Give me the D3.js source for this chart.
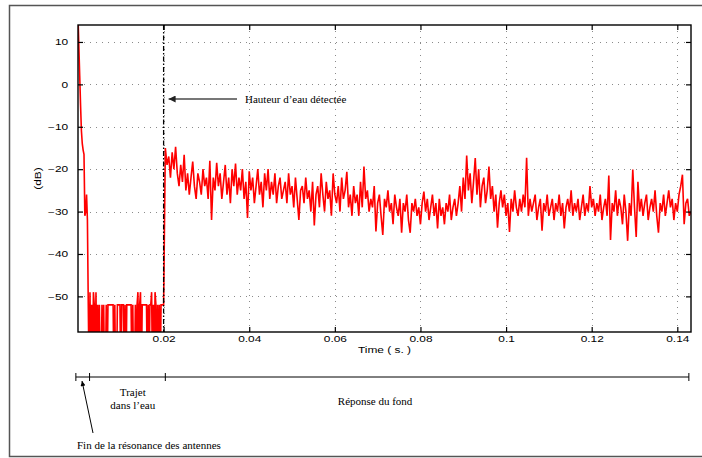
<!DOCTYPE html>
<html>
<head>
<meta charset="utf-8">
<script src="https://cdn.jsdelivr.net/npm/d3@7"></script>
<style>
  body { margin: 0; background: #fff; }
  .tick text { font-family: "Liberation Sans", Arial, sans-serif; }
  .note { font-family: "Liberation Serif", "Times New Roman", serif; font-size: 11px; fill: #000; }
</style>
</head>
<body>
<svg id="chart"></svg>
<script>
// sampled echo level (dB) -- early part, one sample every 0.2 ms from t = 0
var earlyDt = 0.0002;
var earlyDb = [
  16, 9, 2, -5, -11, -14, -15.5, -16.5, -31, -30, -26, -32, -52,
  -70, -49, -70, -52, -70, -49, -52, -70, -49, -70, -52,
  -70, -52, -70, -70, -52, -70, -52, -70, -70, -52, -70, -52,
  -52, -52, -52, -52, -52, -52,
  -70, -52, -70, -70, -52, -52,
  -52, -52, -70, -52, -52, -52,
  -70, -52, -70, -52, -52, -52,
  -52, -52, -52,
  -70, -52, -70, -70, -52, -70, -52,
  -49, -70, -52, -49, -70, -52,
  -52, -52, -52, -52, -52,
  -70, -52, -70, -52, -52,
  -49, -70, -52, -70, -49, -52, -70, -52,
  -70, -52, -70, -52, -52, -52, -52
];

// bottom response, one sample every 0.4 ms starting after t = 0.02
var lateT0 = 0.02;
var lateDt = 0.0004;
var lateDb = [
  -15, -19, -17, -22, -16, -20, -14.7, -21, -24, -19,
  -23, -16.6, -25, -21, -26, -22, -18.2, -24, -27, -21,
  -23, -26, -20, -24, -22, -27, -18, -32, -22, -25,
  -18.5, -24, -21, -27, -23, -19, -26, -22, -28, -20,
  -24, -18.7, -26, -22, -25, -20, -27, -23, -31.5, -20.5,
  -25, -22, -28, -24, -20, -26, -23, -29, -21, -25,
  -20, -27, -23, -26, -21, -28, -24, -22, -27, -25,
  -23, -28, -21, -26, -24, -29, -22, -27, -32, -25,
  -24, -28, -22, -27, -25, -30, -23, -33.3, -26, -24,
  -29, -21, -26, -30, -23, -27, -25, -31, -21, -26,
  -28, -24, -30, -22, -27, -25, -20.6, -29, -26, -31,
  -24, -28, -26, -31, -23, -29, -19.4, -27, -25, -30,
  -27, -29, -24, -34.7, -28, -26, -31, -35.5, -27, -29,
  -25, -30, -28, -33, -26, -29, -31, -27, -35, -28,
  -30, -26, -32, -35, -28, -30, -27, -31, -29, -33,
  -28, -25.3, -30, -27, -32, -29, -26, -31, -28, -34,
  -27, -31, -29, -33, -28, -30, -26, -32, -29, -27,
  -31, -28, -24, -30, -22, -27, -16.8, -25, -21, -28,
  -23, -17.4, -26, -20, -29, -24, -22, -28, -25, -19.4,
  -27, -24, -30, -26, -33.8, -28, -25, -29, -26, -31,
  -28, -34.8, -27, -30, -25, -29, -31, -27, -30, -26,
  -29, -17.3, -31, -27, -30, -28, -26, -32, -29, -27,
  -34.5, -28, -30, -26, -31, -29, -27, -32, -28, -30,
  -26, -31, -28, -34, -29, -27, -30, -25, -31, -28,
  -30, -27, -32, -29, -26, -31, -28, -30, -24, -29,
  -27, -31, -28, -30, -26, -32, -29, -27, -31, -21.5,
  -36.7, -28, -30, -25, -31, -27, -29, -33, -26, -30,
  -36.9, -28, -31, -20.1, -29, -36, -23, -30, -27, -31,
  -28, -26, -32, -29, -27, -30, -25, -31, -35, -28,
  -30, -26, -31, -28, -25, -29, -27, -32, -28, -30,
  -26, -24, -21.3, -33, -28, -27, -31, -30
];

var xTicks = [0.02, 0.04, 0.06, 0.08, 0.1, 0.12, 0.14];
var yTicks = [-50, -40, -30, -20, -10, 0, 10];
var xDomain = [0, 0.1432];
var yDomain = [-58.4, 14];

var detectedTime = 0.02;
// time line under the plot: end of antenna ringing, travel in water, bottom response
var phaseBreaks = [-0.0005, 0.0027, 0.0204, 0.1427];

function init() {
  var W = 702, H = 458;
  var left = 78, right = 691, top = 25, bottom = 332;

  var svg = d3.select("#chart").attr("width", W).attr("height", H);

  // outer frame of the figure
  svg.append("path")
    .attr("d", "M" + (W + 2) + ",5.5H9.5V456.5H" + (W + 2))
    .attr("fill", "none")
    .attr("stroke", "#555")
    .attr("stroke-width", 1.5);

  var x = d3.scaleLinear().domain(xDomain).range([left, right]);
  var y = d3.scaleLinear().domain(yDomain).range([bottom, top]);

  var series = [];
  earlyDb.forEach(function(v, i) { series.push({ t: i * earlyDt, v: v }); });
  lateDb.forEach(function(v, i) { series.push({ t: lateT0 + (i + 1) * lateDt, v: v }); });

  // grid
  var grid = svg.append("g")
    .attr("stroke", "#8a8a8a")
    .attr("stroke-width", 1)
    .attr("stroke-dasharray", "1,5");
  grid.selectAll(".gx").data(xTicks).enter().append("line")
    .attr("x1", function(d) { return Math.round(x(d)) + 0.5; })
    .attr("x2", function(d) { return Math.round(x(d)) + 0.5; })
    .attr("y1", top).attr("y2", bottom);
  grid.selectAll(".gy").data(yTicks).enter().append("line")
    .attr("y1", function(d) { return Math.round(y(d)) + 0.5; })
    .attr("y2", function(d) { return Math.round(y(d)) + 0.5; })
    .attr("x1", left).attr("x2", right);

  svg.append("clipPath").attr("id", "clip")
    .append("rect")
    .attr("x", left).attr("y", top)
    .attr("width", right - left).attr("height", bottom - top);

  var line = d3.line()
    .x(function(d) { return x(d.t); })
    .y(function(d) { return y(d.v); });

  svg.append("path")
    .datum(series)
    .attr("clip-path", "url(#clip)")
    .attr("fill", "none")
    .attr("stroke", "#ff0000")
    .attr("stroke-width", 1.6)
    .attr("stroke-linejoin", "miter")
    .attr("d", line);

  // detection marker
  svg.append("line")
    .attr("x1", x(detectedTime)).attr("x2", x(detectedTime))
    .attr("y1", top).attr("y2", bottom)
    .attr("stroke", "#000")
    .attr("stroke-width", 1.3)
    .attr("stroke-dasharray", "5,2,1.5,2");

  // axes (ticks pointing inward)
  var fmt = function(d) { return d3.format("")(d).replace("-", "\u2212"); };

  var xAxis = svg.append("g")
    .attr("transform", "translate(0," + bottom + ")")
    .call(d3.axisBottom(x).tickValues(xTicks).tickSizeInner(-5).tickSizeOuter(0).tickPadding(4).tickFormat(fmt));
  svg.append("g")
    .attr("transform", "translate(0," + top + ")")
    .call(d3.axisTop(x).tickValues(xTicks).tickSizeInner(-5).tickSizeOuter(0).tickFormat(""));
  var yAxis = svg.append("g")
    .attr("transform", "translate(" + left + ",0)")
    .call(d3.axisLeft(y).tickValues(yTicks).tickSizeInner(-5).tickSizeOuter(0).tickPadding(7).tickFormat(fmt));
  svg.append("g")
    .attr("transform", "translate(" + right + ",0)")
    .call(d3.axisRight(y).tickValues(yTicks).tickSizeInner(-5).tickSizeOuter(0).tickFormat(""));

  svg.selectAll(".domain").remove();
  svg.selectAll(".tick line").attr("stroke", "#000").attr("stroke-width", 1.2);
  svg.selectAll(".tick text")
    .attr("font-size", 8.5)
    .attr("fill", "#000")
    .attr("transform", "scale(1.4,1)");

  // plot frame
  svg.append("rect")
    .attr("x", left).attr("y", top)
    .attr("width", right - left).attr("height", bottom - top)
    .attr("fill", "none")
    .attr("stroke", "#000")
    .attr("stroke-width", 1.4);

  // axis titles
  svg.append("text")
    .attr("transform", "translate(" + ((left + right) / 2) + ",353) scale(1.4,1)")
    .attr("text-anchor", "middle")
    .attr("font-family", "Liberation Sans, Arial, sans-serif")
    .attr("font-size", 8.5)
    .text("Time ( s. )");
  svg.append("text")
    .attr("transform", "translate(41," + ((top + bottom) / 2) + ") rotate(-90) scale(1.4,1)")
    .attr("text-anchor", "middle")
    .attr("font-family", "Liberation Sans, Arial, sans-serif")
    .attr("font-size", 8.5)
    .text("(dB)");

  // arrow markers
  var defs = svg.append("defs");
  defs.append("marker").attr("id", "headGray")
    .attr("viewBox", "0 0 10 10").attr("refX", 10).attr("refY", 5)
    .attr("markerWidth", 4.5).attr("markerHeight", 3.5)
    .attr("markerUnits", "strokeWidth").attr("orient", "auto")
    .append("path").attr("d", "M0,0L10,5L0,10Z").attr("fill", "#222");
  defs.append("marker").attr("id", "headBlack")
    .attr("viewBox", "0 0 10 10").attr("refX", 10).attr("refY", 5)
    .attr("markerWidth", 7).attr("markerHeight", 5)
    .attr("markerUnits", "strokeWidth").attr("orient", "auto")
    .append("path").attr("d", "M0,0L10,5L0,10Z").attr("fill", "#000");

  // "Hauteur d'eau détectée" annotation
  svg.append("line")
    .attr("x1", 237).attr("y1", 99)
    .attr("x2", x(detectedTime) + 5).attr("y2", 99)
    .attr("stroke", "#777")
    .attr("stroke-width", 2)
    .attr("marker-end", "url(#headGray)");
  svg.append("text").attr("class", "note")
    .attr("x", 245).attr("y", 103)
    .text("Hauteur d\u2019eau détectée");

  // phase time line
  var tl = 377;
  svg.append("line")
    .attr("x1", x(phaseBreaks[0])).attr("x2", x(phaseBreaks[phaseBreaks.length - 1]))
    .attr("y1", tl).attr("y2", tl)
    .attr("stroke", "#000").attr("stroke-width", 1);
  svg.selectAll(".phase").data(phaseBreaks).enter().append("line")
    .attr("x1", function(d) { return x(d); })
    .attr("x2", function(d) { return x(d); })
    .attr("y1", tl - 4).attr("y2", tl + 4)
    .attr("stroke", "#000").attr("stroke-width", 1);

  svg.append("text").attr("class", "note")
    .attr("x", x(0.0128)).attr("y", 396).attr("text-anchor", "middle")
    .text("Trajet");
  svg.append("text").attr("class", "note")
    .attr("x", x(0.0128)).attr("y", 409).attr("text-anchor", "middle")
    .text("dans l\u2019eau");
  svg.append("text").attr("class", "note")
    .attr("x", x(0.0694)).attr("y", 405).attr("text-anchor", "middle")
    .text("Réponse du fond");

  svg.append("line")
    .attr("x1", 93).attr("y1", 433)
    .attr("x2", 82).attr("y2", 381)
    .attr("stroke", "#000").attr("stroke-width", 1)
    .attr("marker-end", "url(#headBlack)");
  svg.append("text").attr("class", "note")
    .attr("x", 77).attr("y", 449)
    .text("Fin de la résonance des antennes");
}

window.onload = init;
</script>
</body>
</html>
